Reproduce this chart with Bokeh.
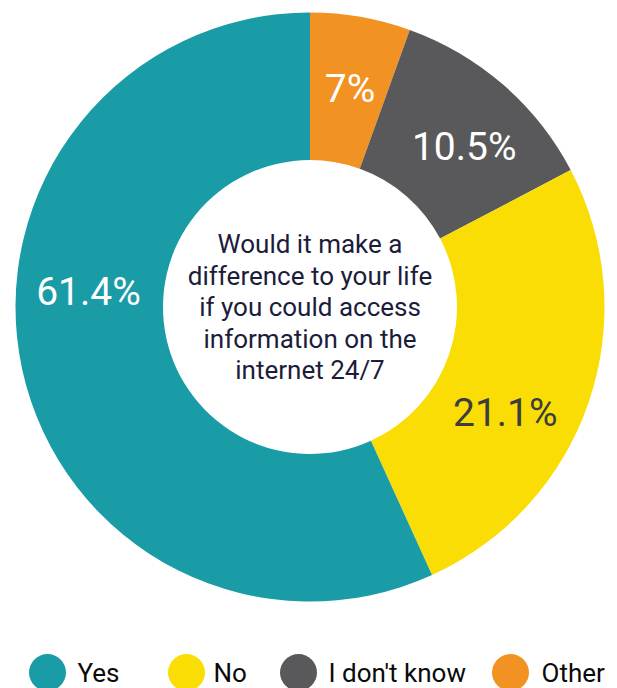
import math
from bokeh.plotting import figure
from bokeh.models import Range1d
from bokeh.core.properties import value
from bokeh.embed import file_html
from bokeh.resources import INLINE

# ---- data ----
categories = ["Yes", "No", "I don't know", "Other"]
labels = ["61.4%", "21.1%", "10.5%", "7%"]
# arc shares as drawn in the reference picture (the printed labels differ slightly)
arc_share = [56.8, 25.9, 11.8, 5.5]
colors = ["#1a9ca6", "#f9dd05", "#59595b", "#f29223"]
label_colors = ["white", "#3d3d3d", "white", "white"]
question = ["Would it make a", "difference to your life", "if you could access",
            "information on the", "internet 24/7"]

# ---- layout ----
W, H = 617, 688
cx, cy = 309.5, H - 306.5
r_out, r_in = 294.5, 147
label_r = 222
label_deg = [273.8, 118.4, 44.0, 10.4]  # clockwise from top, per category
FONT = "Roboto"

p = figure(width=W, height=H, x_range=Range1d(0, W), y_range=Range1d(0, H),
           output_backend="svg", toolbar_location=None, min_border=0)
p.axis.visible = False
p.grid.visible = False
p.outline_line_color = None
p.background_fill_color = "white"
p.border_fill_color = "white"

# wedges clockwise from top in order Other, I don't know, No, Yes
total = sum(arc_share)
order = list(range(len(arc_share)))[::-1]
cum = 0.0
starts, ends, cols = [], [], []
for i in order:
    a0 = math.pi / 2 - 2 * math.pi * cum / total
    cum += arc_share[i]
    a1 = math.pi / 2 - 2 * math.pi * cum / total
    starts.append(a0)
    ends.append(a1)
    cols.append(colors[i])
p.annular_wedge(x=[cx] * len(order), y=[cy] * len(order), inner_radius=r_in, outer_radius=r_out,
                start_angle=starts, end_angle=ends, direction="clock",
                fill_color=cols, line_color=None)

# percent labels
lx = [cx + label_r * math.sin(math.radians(d)) for d in label_deg]
ly = [cy + label_r * math.cos(math.radians(d)) for d in label_deg]
p.text(x=lx, y=ly, text=labels, text_color=label_colors, text_align="center",
       text_baseline="middle", text_font=value(FONT), text_font_size="39px",
       text_font_style="normal")

# center question
line_h = 31.5
n = len(question)
qy = [cy + (n - 1) / 2 * line_h - k * line_h for k in range(n)]
p.text(x=[cx] * n, y=qy, text=question, text_color="#1b1d3b", text_align="center",
       text_baseline="middle", text_font=value(FONT), text_font_size="26px",
       text_font_style="normal")

# legend
leg_circle_x = [47, 186, 298, 510]
leg_text_x = [77, 213, 328, 541]
leg_y = H - 672
p.scatter(x=leg_circle_x, y=[leg_y] * 4, size=37, fill_color=colors, line_color=None)
p.text(x=leg_text_x, y=[leg_y] * 4, text=categories, text_color="#0a0a0a",
       text_align="left", text_baseline="middle", text_font=value(FONT),
       text_font_size="26px")

open("out.html", "w").write(file_html(p, INLINE))
